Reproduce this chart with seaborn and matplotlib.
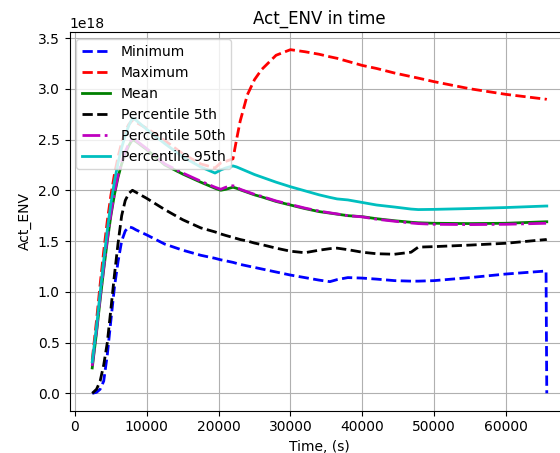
import matplotlib
matplotlib.use("Agg")
import matplotlib.pyplot as plt
import numpy as np
import pandas as pd
import seaborn as sns

# Simulation time, seconds
time_s = [2400, 3000, 3500, 4000, 4500, 5000, 5500, 6000, 6500, 7000, 7500, 8000,
          8500, 10000, 12500, 15000, 17500, 19500, 20300, 21000, 22000, 22500,
          23000, 24000, 25000, 26000, 28000, 30000, 32000, 34000, 35500, 36500,
          38000, 40000, 42000, 44500, 46800, 47800, 50000, 55000, 60000, 65600,
          65700]

# Act_ENV statistics, units of 1e18
minimum = [0.0, 0.01, 0.04, 0.12, 0.38, 0.72, 1.05, 1.30, 1.50, 1.60, 1.64, 1.63,
           1.61, 1.56, 1.47, 1.41, 1.36, 1.33, 1.315, 1.305, 1.29, 1.28,
           1.27, 1.255, 1.24, 1.225, 1.195, 1.165, 1.14, 1.115, 1.10, 1.12,
           1.14, 1.135, 1.125, 1.11, 1.105, 1.105, 1.11, 1.14, 1.175, 1.205,
           0.0]
maximum = [0.33, 0.72, 1.07, 1.40, 1.70, 1.95, 2.16, 2.33, 2.47, 2.58, 2.65, 2.69,
           2.67, 2.61, 2.49, 2.36, 2.26, 2.22, 2.27, 2.285, 2.31, 2.50,
           2.68, 2.94, 3.09, 3.19, 3.33, 3.385, 3.365, 3.34, 3.315, 3.30,
           3.27, 3.23, 3.20, 3.155, 3.12, 3.105, 3.07, 3.00, 2.945, 2.897,
           2.895]
mean = [0.25, 0.60, 0.92, 1.22, 1.50, 1.75, 1.96, 2.13, 2.26, 2.36, 2.44, 2.50,
        2.48, 2.40, 2.25, 2.16, 2.08, 2.02, 2.00, 2.01, 2.03, 2.02,
        2.005, 1.98, 1.955, 1.935, 1.89, 1.855, 1.82, 1.79, 1.775, 1.765,
        1.75, 1.74, 1.72, 1.70, 1.685, 1.68, 1.675, 1.672, 1.675, 1.69,
        1.69]
p5 = [0.0, 0.04, 0.12, 0.28, 0.50, 0.83, 1.17, 1.48, 1.75, 1.90, 1.97, 2.00,
      1.98, 1.92, 1.81, 1.71, 1.63, 1.59, 1.57, 1.555, 1.535, 1.525,
      1.515, 1.50, 1.48, 1.465, 1.43, 1.40, 1.385, 1.41, 1.425, 1.43,
      1.415, 1.39, 1.375, 1.37, 1.39, 1.44, 1.445, 1.46, 1.478, 1.515,
      1.517]
p50 = [0.27, 0.62, 0.94, 1.24, 1.52, 1.77, 1.98, 2.15, 2.28, 2.38, 2.46, 2.51,
       2.49, 2.41, 2.26, 2.17, 2.09, 2.03, 2.01, 2.03, 2.045, 2.03,
       2.01, 1.985, 1.96, 1.94, 1.895, 1.86, 1.825, 1.795, 1.778, 1.767,
       1.75, 1.738, 1.715, 1.695, 1.678, 1.672, 1.665, 1.662, 1.665, 1.675,
       1.675]
p95 = [0.31, 0.66, 0.99, 1.31, 1.61, 1.87, 2.09, 2.27, 2.42, 2.54, 2.64, 2.71,
       2.69, 2.60, 2.46, 2.33, 2.23, 2.17, 2.20, 2.22, 2.24, 2.23,
       2.215, 2.185, 2.155, 2.13, 2.08, 2.035, 1.995, 1.955, 1.93, 1.915,
       1.905, 1.88, 1.855, 1.835, 1.815, 1.81, 1.812, 1.82, 1.83, 1.845,
       1.845]

series = [
    ("Minimum", minimum, "b", "--"),
    ("Maximum", maximum, "r", "--"),
    ("Mean", mean, "g", "-"),
    ("Percentile 5th", p5, "k", "--"),
    ("Percentile 50th", p50, "m", "-."),
    ("Percentile 95th", p95, "c", "-"),
]

fig = plt.figure(figsize=(5.6, 4.53), dpi=100)
ax = fig.add_axes([69.5 / 560, 42.5 / 453, 500 / 560, 378 / 453])

for label, vals, color, ls in series:
    df = pd.DataFrame({"time": time_s, "value": np.array(vals) * 1e18})
    sns.lineplot(data=df, x="time", y="value", ax=ax, color=color,
                 linestyle=ls, linewidth=2, label=label, sort=False,
                 estimator=None)

ax.grid(True)
ax.set_title("Act_ENV in time")
ax.set_xlabel("Time, (s)")
ax.set_ylabel("Act_ENV")
ax.legend(loc="upper left")

fig.savefig("out.png", dpi=100)
